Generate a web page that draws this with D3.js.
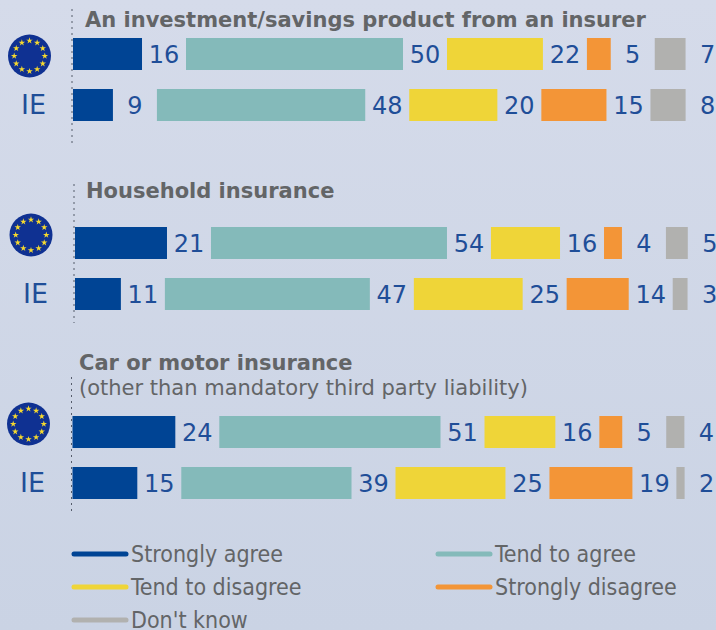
<!DOCTYPE html>
<html>
<head>
<meta charset="utf-8">
<script src="https://cdn.jsdelivr.net/npm/d3@7"></script>
<style>
html, body { margin: 0; padding: 0; }
svg { display: block; }
</style>
</head>
<body>
<script>
// Chart values. The labels print them rounded
const answers = ["Strongly agree", "Tend to agree", "Tend to disagree", "Strongly disagree", "Don't know"];
const rowNames = ["EU", "IE"];
const investmentEU = [15.9, 50, 22.1, 5.49, 7.1];
const investmentIE = [9.2, 48, 20.3, 15, 8.1];
const householdEU = [21.05, 54, 15.8, 4.1, 5];
const householdIE = [10.5, 46.9, 24.9, 14.2, 3.4];
const carEU = [23.8, 51.2, 16.4, 5.3, 4.2];
const carIE = [15, 39.4, 25.45, 19.2, 1.9];

const colors = ["#004494", "#84baba", "#efd538", "#f39537", "#b1b1af"];
const blueText = "#1f4e98";
const greyText = "#636567";

const w = 716;
const h = 630;
// the label gap between two bars stays the same whatever the value
const gap = 44;
const barH = 32;

// Each panel was pasted in slightly off from the others in the original, so it keeps its own offset
const panels = [
  { title: "An investment/savings product from an insurer", sub: null, rows: [investmentEU, investmentIE],
    x0: 73, pxPerUnit: 4.34, titleX: 85, titleY: 27, rowY: [38, 89], lineX: 72, lineY: [9, 146], flag: [29.5, 56], ieX: 33.5 },
  { title: "Household insurance", sub: null, rows: [householdEU, householdIE],
    x0: 75, pxPerUnit: 4.37, titleX: 86, titleY: 198, rowY: [227, 278], lineX: 74, lineY: [184, 323], flag: [31, 235], ieX: 35.5 },
  { title: "Car or motor insurance", sub: "(other than mandatory third party liability)", rows: [carEU, carIE],
    x0: 72.5, pxPerUnit: 4.32, titleX: 79, titleY: 370, rowY: [416, 467], lineX: 71.5, lineY: [377, 513], flag: [28.5, 424], ieX: 32.5 }
];

const svg = d3.select("body").append("svg")
  .attr("width", w)
  .attr("height", h)
  .style("font-family", "'DejaVu Sans', Verdana, sans-serif");

// Background fades a little darker to the bottom
const grad = svg.append("defs").append("linearGradient")
  .attr("id", "bg").attr("x1", 0).attr("y1", 0).attr("x2", 0).attr("y2", 1);
grad.append("stop").attr("offset", "0%").attr("stop-color", "#d5dbea");
grad.append("stop").attr("offset", "100%").attr("stop-color", "#cad3e4");
svg.append("rect").attr("width", w).attr("height", h).attr("fill", "url(#bg)");

const star = d3.symbol().type(d3.symbolStar).size(13);

function drawFlag(g, cx, cy) {
  g.append("circle").attr("cx", cx).attr("cy", cy).attr("r", 21.5).attr("fill", "#0f3192");
  d3.range(12).forEach(i => {
    const a = i * Math.PI / 6;
    g.append("path")
      .attr("d", star())
      .attr("transform", `translate(${cx + 15.3 * Math.sin(a)},${cy - 15.3 * Math.cos(a)})`)
      .attr("fill", "#f6d92e");
  });
}

panels.forEach(p => {
  const g = svg.append("g");
  const x = d3.scaleLinear().domain([0, 100]).range([0, 100 * p.pxPerUnit]);

  // Dotted base line
  g.append("line")
    .attr("x1", p.lineX).attr("x2", p.lineX)
    .attr("y1", p.lineY[0]).attr("y2", p.lineY[1])
    .attr("stroke", "#555c6b").attr("stroke-width", 1)
    .attr("stroke-dasharray", "2,4");

  g.append("text")
    .attr("x", p.titleX).attr("y", p.titleY)
    .attr("font-size", 21).attr("font-weight", "bold")
    .attr("fill", greyText)
    .text(p.title);

  if (p.sub) {
    g.append("text")
      .attr("x", p.titleX).attr("y", p.titleY + 25)
      .attr("font-size", 21)
      .attr("fill", greyText)
      .text(p.sub);
  }

  drawFlag(g, p.flag[0], p.flag[1]);

  g.append("text")
    .attr("x", p.ieX).attr("y", p.rowY[1] + 25)
    .attr("text-anchor", "middle")
    .attr("font-size", 27)
    .attr("fill", blueText)
    .text(rowNames[1]);

  p.rows.forEach((row, r) => {
    // running left edge of every bar
    let left = p.x0;
    const segs = row.map((v, i) => {
      const s = { v, i, left, width: x(v) };
      left += x(v) + gap;
      return s;
    });

    const rowG = g.append("g").attr("transform", `translate(0,${p.rowY[r]})`);

    rowG.selectAll("rect")
      .data(segs)
      .enter()
      .append("rect")
      .attr("x", d => d.left)
      .attr("y", 0)
      .attr("width", d => d.width)
      .attr("height", barH)
      .attr("fill", d => colors[d.i]);

    rowG.selectAll("text")
      .data(segs)
      .enter()
      .append("text")
      .attr("x", d => d.left + d.width + gap / 2)
      .attr("y", 25)
      .attr("text-anchor", "middle")
      .attr("font-size", 24)
      .attr("fill", blueText)
      .text(d => d3.format(".0f")(d.v));
  });
});

// Legend, two columns
const legendX = d3.scalePoint().domain([0, 1]).range([72, 436]);
const legendY = d3.scalePoint().domain([0, 1, 2]).range([554, 620]);

const legend = svg.selectAll("g.legend")
  .data(answers)
  .enter()
  .append("g")
  .attr("class", "legend")
  .attr("transform", (d, i) => `translate(${legendX(i % 2)},${legendY(Math.floor(i / 2))})`);

legend.append("line")
  .attr("x1", 2).attr("x2", 54)
  .attr("stroke", (d, i) => colors[i])
  .attr("stroke-width", 5)
  .attr("stroke-linecap", "round");

legend.append("text")
  .attr("x", 59).attr("y", 8)
  .attr("font-size", 23)
  .style("font-stretch", "condensed")
  .attr("fill", greyText)
  .text(d => d);
</script>
</body>
</html>
